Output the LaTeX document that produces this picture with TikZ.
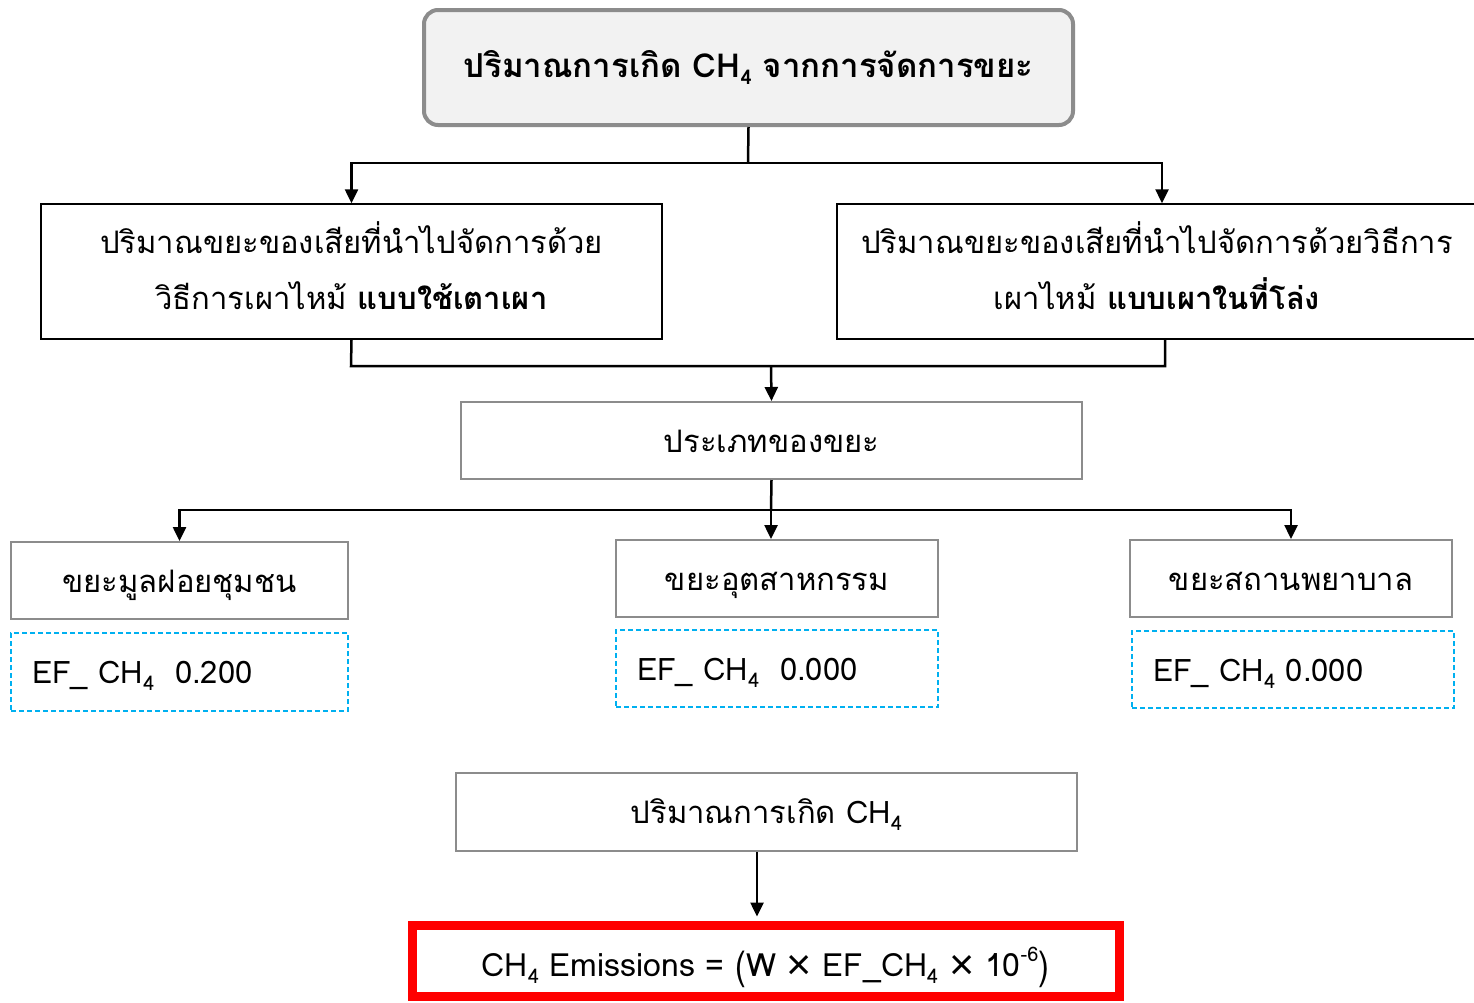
\documentclass[tikz,border=0pt]{standalone}
\usepackage{fontspec}
\usepackage{graphicx}
\usetikzlibrary{arrows.meta}
\setmainfont[Script=Thai]{Loma}
\newfontfamily\thaifont[Script=Thai]{Loma}
\newfontfamily\signfont{Liberation Sans}
\definecolor{boxgray}{HTML}{8C8C8C}
\definecolor{topfill}{HTML}{F2F2F2}
\definecolor{efblue}{HTML}{00B0F0}
\definecolor{alertred}{HTML}{FF0000}
\newcommand{\chfour}{CH\raisebox{-0.45ex}{\fontsize{20}{20}\selectfont 4}}
\newcommand{\timesx}{\raisebox{-0.2ex}{\scalebox{1.35}{\signfont ×}}}
\newcommand{\tallparen}[1]{\raisebox{-0.12em}{\scalebox{1}[1.22]{#1}}}
\newcommand{\firstline}{\rule{0pt}{40pt}}
\newcommand{\lastline}{\rule[-21pt]{0pt}{21pt}}
\tikzset{
  every node/.style={font=\thaifont\fontsize{31}{56}\selectfont, inner sep=0pt, align=center},
  oneline/.style={text height=26pt, text depth=3pt},
  topbox/.style={draw=boxgray, line width=4pt, fill=topfill, rounded corners=14pt},
  plainbox/.style={draw=black, line width=1.5pt},
  graybox/.style={draw=boxgray, line width=2pt, oneline},
  efbox/.style={draw=efblue, line width=1.6pt, dash pattern=on 5pt off 3pt, align=left, oneline},
  redbox/.style={draw=alertred, line width=9pt},
  link/.style={line width=2.5pt, draw=black},
  arr/.style={link, -{Triangle[length=14pt,width=13pt]}},
}
\begin{document}
\begin{tikzpicture}[x=1pt,y=-1pt]
\useasboundingbox (0,0) rectangle (1474,1002);
\fill[white] (0,0) rectangle (1474,1002);

% heading box
\node[topbox, minimum width=649pt, minimum height=115pt] (top) at (748.5,67.5)
  {\fontsize{33}{40}\selectfont\bfseries ปริมาณการเกิด \chfour\ จากการจัดการขยะ};

% two incineration branches
\node[plainbox, minimum width=621pt, minimum height=135pt] (kiln) at (351.5,271.5)
  {\firstline ปริมาณขยะของเสียที่นำไปจัดการด้วย\\วิธีการเผาไหม้ \textbf{แบบใช้เตาเผา}\lastline};
\node[plainbox, minimum width=640pt, minimum height=135pt] (open) at (1157,271.5)
  {\firstline ปริมาณขยะของเสียที่นำไปจัดการด้วยวิธีการ\\เผาไหม้ \textbf{แบบเผาในที่โล่ง}\lastline};

% waste types
\node[graybox, minimum width=621pt, minimum height=77pt] (types) at (771.5,440.5) {ประเภทของขยะ};

\node[graybox, minimum width=337pt, minimum height=77pt] (muni) at (179.5,580.5) {ขยะมูลฝอยชุมชน};
\node[graybox, minimum width=322pt, minimum height=77pt] (indu) at (777,578.5) {ขยะอุตสาหกรรม};
\node[graybox, minimum width=322pt, minimum height=77pt] (hosp) at (1291,578.5) {ขยะสถานพยาบาล};

\node[efbox, minimum width=337pt, minimum height=78pt, text width=295pt] (efmuni) at (179.5,672)
  {EF\_ \chfour\ \ 0.200};
\node[efbox, minimum width=322pt, minimum height=77pt, text width=280pt] (efindu) at (777,668.5)
  {EF\_ \chfour\ \ 0.000};
\node[efbox, minimum width=322pt, minimum height=77pt, text width=280pt] (efhosp) at (1293,669.5)
  {EF\_ \chfour\ 0.000};

% result
\node[graybox, minimum width=621pt, minimum height=78pt] (amount) at (766.5,812) {ปริมาณการเกิด \chfour};
\node[redbox, minimum width=707pt, minimum height=71pt, text height=34pt, text depth=3pt] (formula) at (765.5,960.5)
  {\fontsize{32}{40}\selectfont\chfour\ Emissions = \tallparen{(}W \timesx\ EF\_\chfour\ \timesx\ 10\raisebox{0.9ex}{\fontsize{20}{20}\selectfont -6}\tallparen{)}};

% connectors
\coordinate (split1) at (748,163);
\draw[link] (top.south) -- (split1);
\draw[arr] (split1) -| (kiln.north);
\draw[arr] (split1) -| ([xshift=5pt]open.north);

\coordinate (joinL) at (351,366);
\coordinate (joinR) at (1165,366);
\coordinate (joinM) at (771,366);
\draw[link] (kiln.south) -- (joinL) -- (joinR) -- ([xshift=8pt]open.south);
\draw[arr] (joinM) -- (types.north);

\coordinate (split2) at (771,510);
\draw[link] (types.south) -- (split2);
\draw[arr] (split2) -| (muni.north);
\draw[arr] (split2) -- ([xshift=-6pt]indu.north);
\draw[arr] (split2) -| (hosp.north);

\draw[arr, shorten >=4pt] ([xshift=-9.5pt]amount.south) -- ([xshift=-8.5pt]formula.north);
\end{tikzpicture}
\end{document}
